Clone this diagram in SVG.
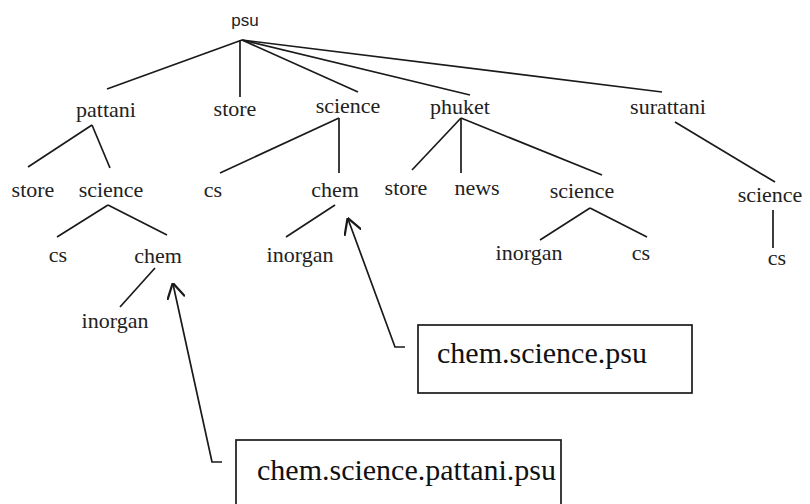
<svg xmlns="http://www.w3.org/2000/svg" width="810" height="504" viewBox="0 0 810 504">
<defs>
<style>
.n{font-family:"Liberation Serif","Times New Roman",serif;font-size:22px;fill:#222;text-anchor:middle}
.root{font-family:"Liberation Sans",Arial,sans-serif;font-size:17px;fill:#222;text-anchor:middle}
.lbl{font-family:"Liberation Serif","Times New Roman",serif;font-size:30px;fill:#111}
.e{stroke:#1a1a1a;stroke-width:1.7;fill:none}
.box{stroke:#1a1a1a;stroke-width:1.7;fill:#fff}
</style>
<marker id="v" markerUnits="userSpaceOnUse" markerWidth="16" markerHeight="18" viewBox="0 0 14 16" refX="13" refY="8" orient="auto">
<path d="M0,0 L14,8 L0,16" fill="none" stroke="#1a1a1a" stroke-width="2"/>
</marker>
</defs>
<rect width="810" height="504" fill="#fff"/>
<g id="connectors">
<path class="e" d="M242,40 L107,89"/>
<path class="e" d="M240,40 L240,97"/>
<path class="e" d="M242,40 L358,92"/>
<path class="e" d="M242,40 L470,95"/>
<path class="e" d="M242,40 L662,92"/>
<path class="e" d="M92,125 L28,167"/>
<path class="e" d="M92,125 L110,168"/>
<path class="e" d="M339,118 L220,173"/>
<path class="e" d="M339,118 L339,173"/>
<path class="e" d="M461,118 L412,170"/>
<path class="e" d="M461,118 L461,173"/>
<path class="e" d="M461,118 L602,175"/>
<path class="e" d="M675,122 L775,182"/>
<path class="e" d="M108,205 L57,237"/>
<path class="e" d="M108,205 L167,235"/>
<path class="e" d="M155,268 L120,307"/>
<path class="e" d="M335,205 L286,237"/>
<path class="e" d="M590,208 L540,240"/>
<path class="e" d="M590,208 L647,237"/>
<path class="e" d="M773,210 L773,248"/>
<path class="e" d="M222,462 L212,462 L173,284" marker-end="url(#v)"/>
<path class="e" d="M405,347 L395,347 L348,219" marker-end="url(#v)"/>
</g>
<g id="psu"><text class="root" x="245" y="26">psu</text></g>
<g id="pattani"><text class="n" x="106" y="117">pattani</text></g>
<g id="store1"><text class="n" x="235" y="116">store</text></g>
<g id="science1"><text class="n" x="348" y="113">science</text></g>
<g id="phuket"><text class="n" x="460" y="114">phuket</text></g>
<g id="surattani"><text class="n" x="668" y="114">surattani</text></g>
<g id="pattani-store"><text class="n" x="33" y="197">store</text></g>
<g id="pattani-science"><text class="n" x="111" y="197">science</text></g>
<g id="science-cs"><text class="n" x="213" y="197">cs</text></g>
<g id="science-chem"><text class="n" x="335" y="197">chem</text></g>
<g id="phuket-store"><text class="n" x="406" y="195">store</text></g>
<g id="phuket-news"><text class="n" x="477" y="195">news</text></g>
<g id="phuket-science"><text class="n" x="582" y="198">science</text></g>
<g id="surattani-science"><text class="n" x="770" y="202">science</text></g>
<g id="pattani-science-cs"><text class="n" x="58" y="262">cs</text></g>
<g id="pattani-science-chem"><text class="n" x="158" y="263">chem</text></g>
<g id="science-chem-inorgan"><text class="n" x="300" y="262">inorgan</text></g>
<g id="phuket-science-inorgan"><text class="n" x="529" y="260">inorgan</text></g>
<g id="phuket-science-cs"><text class="n" x="641" y="260">cs</text></g>
<g id="surattani-science-cs"><text class="n" x="777" y="265">cs</text></g>
<g id="pattani-chem-inorgan"><text class="n" x="115" y="328">inorgan</text></g>
<g id="label-chem-science-psu">
<rect class="box" x="418" y="325" width="274" height="68"/>
<text class="lbl" x="437" y="363">chem.science.psu</text>
</g>
<g id="label-chem-science-pattani-psu">
<rect class="box" x="236" y="440" width="325" height="80"/>
<text class="lbl" x="257" y="480">chem.science.pattani.psu</text>
</g>
</svg>
